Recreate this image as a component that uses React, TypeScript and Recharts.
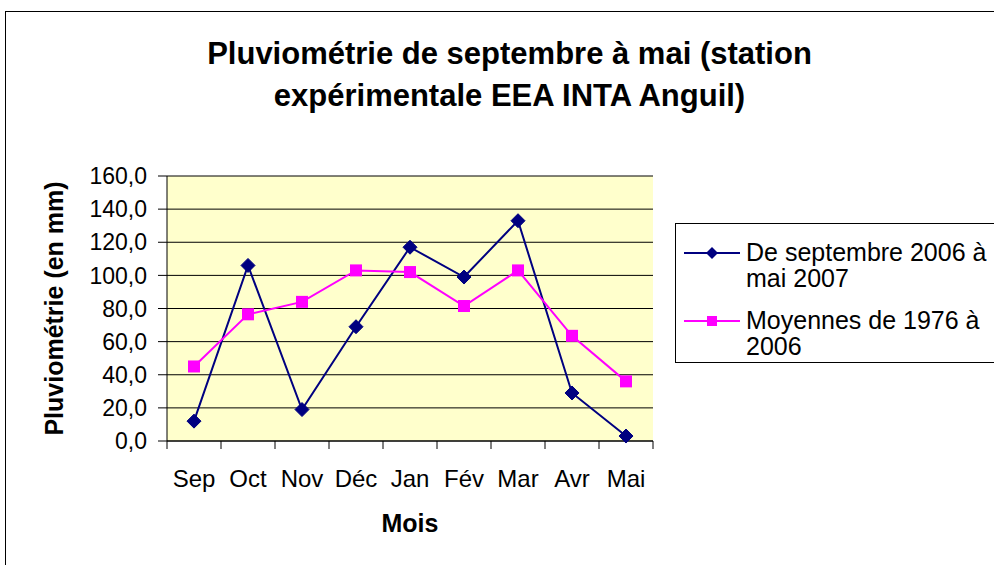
import React from 'react';
import { LineChart, Line, XAxis, YAxis, CartesianGrid, Legend } from 'recharts';

const months = ['Sep', 'Oct', 'Nov', 'Déc', 'Jan', 'Fév', 'Mar', 'Avr', 'Mai'];
const season2006 = [12, 106, 19, 69, 117, 99, 133, 29, 3];
const average7606 = [45, 76.5, 84, 103, 102, 81.5, 103, 63.5, 36];
const yTicks = [0, 20, 40, 60, 80, 100, 120, 140, 160];
const seriesNames = ['De septembre 2006 à mai 2007', 'Moyennes de 1976 à 2006'];
const seriesLegendLines = [['De septembre 2006 à', 'mai 2007'], ['Moyennes de 1976 à', '2006']];

const data = months.map((m, i) => ({ month: m, s2006: season2006[i], avg: average7606[i] }));

const FONT = '"Liberation Sans", Arial, sans-serif';
const W = 994;
const H = 565;
const M = { top: 176, right: 341, bottom: 24, left: 40 };
const YW = 127;
const PLOT_W = W - M.left - YW - M.right;
const HALF = PLOT_W / months.length / 2;
const BLUE = '#000080';
const PINK = '#FF00FF';

const Diamond = (props: any) => {
  const { cx, cy } = props;
  if (cx == null || cy == null) return null;
  const r = 7;
  return <path d={`M${cx},${cy - r}L${cx + r},${cy}L${cx},${cy + r}L${cx - r},${cy}Z`} fill={BLUE} stroke={BLUE} strokeWidth={1} />;
};

const Square = (props: any) => {
  const { cx, cy } = props;
  if (cx == null || cy == null) return null;
  const r = 6;
  return <rect x={cx - r} y={cy - r} width={2 * r} height={2 * r} fill={PINK} />;
};

const XTick = (props: any) => {
  const { x, y, payload, index } = props;
  return (
    <g>
      <line x1={x - HALF} y1={y} x2={x - HALF} y2={y + 8} stroke="#000" strokeWidth={1} />
      {index === months.length - 1 && <line x1={x + HALF} y1={y} x2={x + HALF} y2={y + 8} stroke="#000" strokeWidth={1} />}
      <text x={x} y={y + 37} textAnchor="middle" dominantBaseline="central" fontSize={24} fontFamily={FONT} fill="#000">
        {payload.value}
      </text>
    </g>
  );
};

const XLabel = (props: any) => {
  const vb = props.viewBox || {};
  return (
    <text x={vb.x + vb.width / 2} y={vb.y + 82} textAnchor="middle" dominantBaseline="central" fontSize={25} fontWeight="bold" fontFamily={FONT} fill="#000">
      Mois
    </text>
  );
};

const YLabel = (props: any) => {
  const vb = props.viewBox || {};
  const cx = vb.x + 14;
  const cy = vb.y + vb.height / 2;
  return (
    <text x={cx} y={cy} transform={`rotate(-90 ${cx} ${cy})`} textAnchor="middle" dominantBaseline="central" fontSize={25} fontWeight="bold" fontFamily={FONT} fill="#000">
      Pluviométrie (en mm)
    </text>
  );
};

const LegendContent = () => {
  const items = [
    { color: BLUE, marker: 'diamond', lines: seriesLegendLines[0] },
    { color: PINK, marker: 'square', lines: seriesLegendLines[1] },
  ];
  return (
    <div style={{ border: '1px solid #000', background: '#fff', width: 400, height: 140, boxSizing: 'border-box', position: 'relative', fontFamily: FONT, fontSize: 25, color: '#000' }}>
      {items.map((it, i) => (
        <div key={i} style={{ position: 'absolute', left: 8, top: 13 + i * 68, display: 'flex', alignItems: 'flex-start' }}>
          <svg width={58} height={30} style={{ flex: 'none' }}>
            <line x1={0} y1={16} x2={56} y2={16} stroke={it.color} strokeWidth={2} />
            {it.marker === 'diamond' ? (
              <path d="M28,10L34,16L28,22L22,16Z" fill={it.color} />
            ) : (
              <rect x={23} y={11} width={10} height={10} fill={it.color} />
            )}
          </svg>
          <div style={{ marginLeft: 4, lineHeight: '26px', marginTop: 2 }}>
            {it.lines.map((l, j) => (
              <div key={j} style={{ whiteSpace: 'nowrap' }}>{l}</div>
            ))}
          </div>
        </div>
      ))}
    </div>
  );
};

export default function App() {
  return (
    <div style={{ position: 'absolute', left: 0, top: 0, width: W, height: H, overflow: 'hidden', background: '#fff', fontFamily: FONT }}>
      <div style={{ position: 'absolute', left: 5, top: 11, width: 2000, height: 2000, borderLeft: '1px solid #000', borderTop: '1px solid #000' }} />
      <div style={{ position: 'absolute', left: 0, top: 33, width: 1019, textAlign: 'center', fontSize: 31, fontWeight: 'bold', lineHeight: '42px', color: '#000' }}>
        Pluviométrie de septembre à mai (station
        <br />
        expérimentale EEA INTA Anguil)
      </div>
      <div style={{ position: 'absolute', left: 0, top: 0 }}>
        <LineChart width={W} height={H} data={data} margin={M}>
          <CartesianGrid vertical={false} horizontal fill="#FFFFCC" stroke="#000" strokeWidth={1} fillOpacity={1} />
          <XAxis
            dataKey="month"
            scale="band"
            tick={<XTick />}
            tickLine={false}
            tickSize={0}
            tickMargin={0}
            height={100}
            interval={0}
            axisLine={{ stroke: '#000', strokeWidth: 1 }}
            label={<XLabel />}
          />
          <XAxis xAxisId="top" orientation="top" dataKey="month" scale="band" tick={false} tickLine={false} height={0} axisLine={{ stroke: '#808080', strokeWidth: 2 }} />
          <YAxis
            domain={[0, 160]}
            ticks={yTicks}
            interval={0}
            width={YW}
            tickSize={9}
            tickMargin={11}
            tickLine={{ stroke: '#000' }}
            axisLine={{ stroke: '#000', strokeWidth: 1 }}
            tick={{ fontSize: 23, fontFamily: FONT, fill: '#000' }}
            tickFormatter={(v: number) => v.toFixed(1).replace('.', ',')}
            label={<YLabel />}
          />
          <YAxis yAxisId="right" orientation="right" domain={[0, 160]} tick={false} tickLine={false} width={0} axisLine={{ stroke: '#808080', strokeWidth: 2 }} />
          <Legend
            layout="horizontal"
            verticalAlign="middle"
            align="center"
            content={<LegendContent />}
            wrapperStyle={{ position: 'absolute', left: 675, top: 223, width: 400, height: 140 }}
          />
          <Line
            name={seriesNames[0]}
            dataKey="s2006"
            stroke={BLUE}
            strokeWidth={2}
            dot={<Diamond />}
            activeDot={false}
            isAnimationActive={false}
          />
          <Line
            name={seriesNames[1]}
            dataKey="avg"
            stroke={PINK}
            strokeWidth={2}
            dot={<Square />}
            activeDot={false}
            isAnimationActive={false}
          />
        </LineChart>
      </div>
    </div>
  );
}
